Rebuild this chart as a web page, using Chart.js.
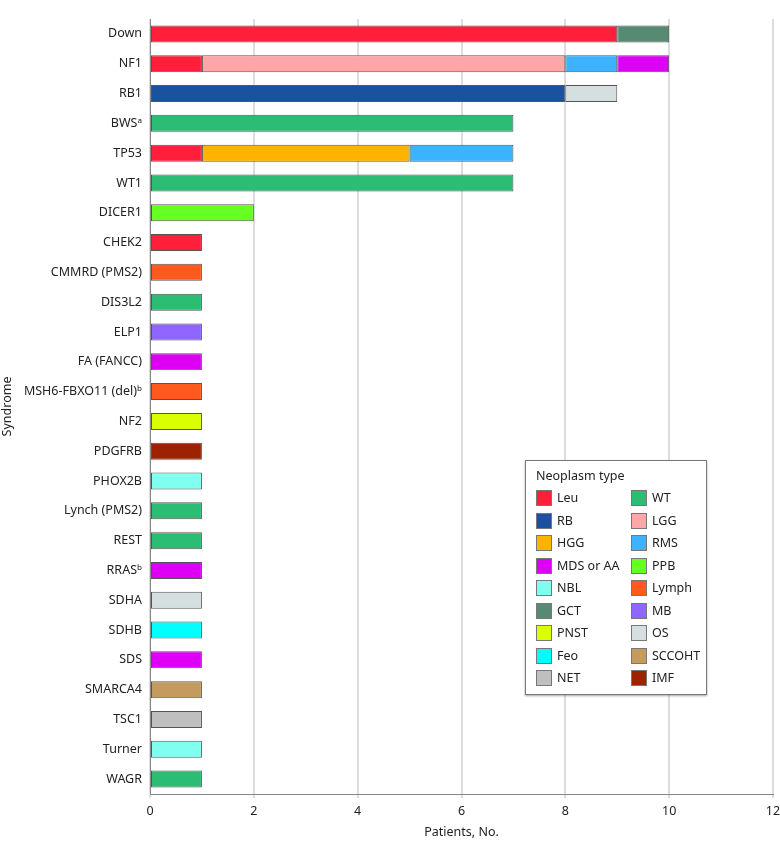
<!DOCTYPE html>
<html>
<head>
<meta charset="utf-8">
<script src="https://cdn.jsdelivr.net/npm/chart.js@4/dist/chart.umd.min.js"></script>
<style>
  body { margin: 0; background: #fff; font-family: "Noto Sans", sans-serif; }
  #wrap { position: relative; width: 780px; height: 850px; }
  #legend {
    position: absolute; left: 525px; top: 460px; width: 180px; height: 233px;
    border: 1px solid #777; box-shadow: 0 1px 2px rgba(0,0,0,0.35); background: #fff;
    font-size: 12.5px; color: #222;
  }
  #legend .title { position: absolute; left: 10px; top: 6px; }
  #legend .item { position: absolute; height: 16px; line-height: 16px; white-space: nowrap; }
  #legend .sw { display: inline-block; width: 14px; height: 14px; border: 1px solid #777; vertical-align: top; margin-right: 5px; }
</style>
</head>
<body>
<div id="wrap">
  <canvas id="chart" width="780" height="850"></canvas>
  <div id="legend"></div>
</div>
<script>
const syndromes = ['Down', 'NF1', 'RB1', 'BWS\u1d43', 'TP53', 'WT1', 'DICER1', 'CHEK2', 'CMMRD (PMS2)', 'DIS3L2',
  'ELP1', 'FA (FANCC)', 'MSH6-FBXO11 (del)\u1d47', 'NF2', 'PDGFRB', 'PHOX2B', 'Lynch (PMS2)', 'REST', 'RRAS\u1d47',
  'SDHA', 'SDHB', 'SDS', 'SMARCA4', 'TSC1', 'Turner', 'WAGR'];

// patients per syndrome, one array per neoplasm type (same order as syndromes)
const leu    = [9,1,0,0,1,0,0,1,0,0,0,0,0,0,0,0,0,0,0,0,0,0,0,0,0,0];
const rb     = [0,0,8,0,0,0,0,0,0,0,0,0,0,0,0,0,0,0,0,0,0,0,0,0,0,0];
const hgg    = [0,0,0,0,4,0,0,0,0,0,0,0,0,0,0,0,0,0,0,0,0,0,0,0,0,0];
const lgg    = [0,7,0,0,0,0,0,0,0,0,0,0,0,0,0,0,0,0,0,0,0,0,0,0,0,0];
const rms    = [0,1,0,0,2,0,0,0,0,0,0,0,0,0,0,0,0,0,0,0,0,0,0,0,0,0];
const mds    = [0,1,0,0,0,0,0,0,0,0,0,1,0,0,0,0,0,0,1,0,0,1,0,0,0,0];
const gct    = [1,0,0,0,0,0,0,0,0,0,0,0,0,0,0,0,0,0,0,0,0,0,0,0,0,0];
const os     = [0,0,1,0,0,0,0,0,0,0,0,0,0,0,0,0,0,0,0,1,0,0,0,0,0,0];
const wt     = [0,0,0,7,0,7,0,0,0,1,0,0,0,0,0,0,1,1,0,0,0,0,0,0,0,1];
const ppb    = [0,0,0,0,0,0,2,0,0,0,0,0,0,0,0,0,0,0,0,0,0,0,0,0,0,0];
const lymph  = [0,0,0,0,0,0,0,0,1,0,0,0,1,0,0,0,0,0,0,0,0,0,0,0,0,0];
const mb     = [0,0,0,0,0,0,0,0,0,0,1,0,0,0,0,0,0,0,0,0,0,0,0,0,0,0];
const pnst   = [0,0,0,0,0,0,0,0,0,0,0,0,0,1,0,0,0,0,0,0,0,0,0,0,0,0];
const imf    = [0,0,0,0,0,0,0,0,0,0,0,0,0,0,1,0,0,0,0,0,0,0,0,0,0,0];
const nbl    = [0,0,0,0,0,0,0,0,0,0,0,0,0,0,0,1,0,0,0,0,0,0,0,0,1,0];
const feo    = [0,0,0,0,0,0,0,0,0,0,0,0,0,0,0,0,0,0,0,0,1,0,0,0,0,0];
const sccoht = [0,0,0,0,0,0,0,0,0,0,0,0,0,0,0,0,0,0,0,0,0,0,1,0,0,0];
const net    = [0,0,0,0,0,0,0,0,0,0,0,0,0,0,0,0,0,0,0,0,0,0,0,1,0,0];

const xTicks = [0, 2, 4, 6, 8, 10, 12];

// stacking order (left to right within a bar)
const series = [
  { label: 'Leu', data: leu, color: '#ff1f3a' },
  { label: 'RB', data: rb, color: '#1a52a0' },
  { label: 'HGG', data: hgg, color: '#ffb300' },
  { label: 'LGG', data: lgg, color: '#ffa6a8' },
  { label: 'RMS', data: rms, color: '#3bb3ff' },
  { label: 'MDS or AA', data: mds, color: '#dd00f5' },
  { label: 'GCT', data: gct, color: '#578a72' },
  { label: 'OS', data: os, color: '#d6dfdf' },
  { label: 'WT', data: wt, color: '#2bbd74' },
  { label: 'PPB', data: ppb, color: '#66ff22' },
  { label: 'Lymph', data: lymph, color: '#ff5a1e' },
  { label: 'MB', data: mb, color: '#8f66ff' },
  { label: 'PNST', data: pnst, color: '#d9ff00' },
  { label: 'IMF', data: imf, color: '#9c2200' },
  { label: 'NBL', data: nbl, color: '#80fff0' },
  { label: 'Feo', data: feo, color: '#00ffff' },
  { label: 'SCCOHT', data: sccoht, color: '#c49a5e' },
  { label: 'NET', data: net, color: '#bfbfbf' }
];

// legend layout order, read row by row
const legendOrder = ['Leu', 'WT', 'RB', 'LGG', 'HGG', 'RMS', 'MDS or AA', 'PPB', 'NBL', 'Lymph',
  'GCT', 'MB', 'PNST', 'OS', 'Feo', 'SCCOHT', 'NET', 'IMF'];

Chart.defaults.font.family = '"Noto Sans", sans-serif';
Chart.defaults.font.size = 12.5;
Chart.defaults.color = '#222';

const ctx = document.getElementById('chart').getContext('2d');
const chart = new Chart(ctx, {
  type: 'bar',
  data: {
    labels: syndromes,
    datasets: series.map(s => ({
      label: s.label,
      data: s.data.map(v => v || null),
      backgroundColor: s.color,
      borderColor: '#555',
      borderWidth: 1,
      borderSkipped: false,
      categoryPercentage: 1,
      barPercentage: 0.57
    }))
  },
  options: {
    indexAxis: 'y',
    responsive: false,
    animation: false,
    layout: { padding: { top: 19, right: 6, left: 0, bottom: 6 } },
    plugins: {
      legend: { display: false },
      tooltip: { enabled: false }
    },
    scales: {
      x: {
        stacked: true,
        min: 0,
        max: 12,
        afterBuildTicks: axis => { axis.ticks = xTicks.map(v => ({ value: v })); },
        grid: { color: '#ddd', lineWidth: 2, tickLength: 4, drawTicks: true },
        border: { color: '#888', width: 1 },
        ticks: { padding: 6, color: '#222' },
        title: { display: true, text: 'Patients, No.', color: '#222', padding: { top: 4 } },
        afterFit: axis => { axis.height = 50; axis.paddingRight = 7; }
      },
      y: {
        stacked: true,
        grid: { display: false },
        border: { color: '#888', width: 1 },
        ticks: { color: '#222', padding: 0, autoSkip: false },
        title: { display: true, text: 'Syndrome', color: '#222', padding: 0 },
        afterFit: axis => { axis.width = 150; }
      }
    }
  }
});

// HTML legend
const legendEl = document.getElementById('legend');
legendEl.innerHTML = '<div class="title">Neoplasm type</div>';
legendOrder.forEach((name, i) => {
  const s = series.find(d => d.label === name);
  const item = document.createElement('div');
  item.className = 'item';
  item.style.left = (i % 2 === 0 ? 10 : 105) + 'px';
  item.style.top = (29 + Math.floor(i / 2) * 22.5) + 'px';
  item.innerHTML = '<span class="sw" style="background:' + s.color + '"></span>' + name;
  legendEl.appendChild(item);
});
</script>
</body>
</html>
